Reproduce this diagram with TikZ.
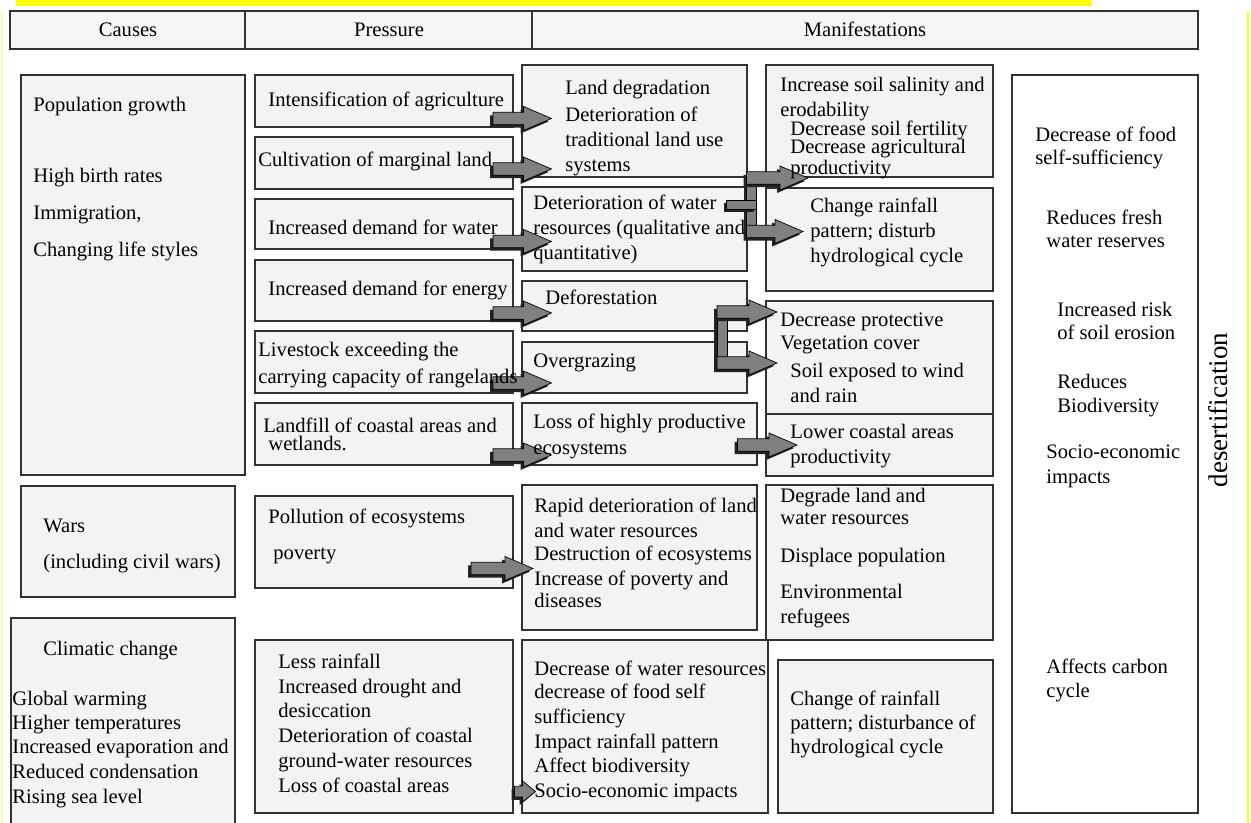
\documentclass[tikz,border=0pt]{standalone}
\usepackage{fontspec}
\setmainfont{Liberation Serif}
\usetikzlibrary{calc,fit}

\definecolor{boxfill}{RGB}{243,243,243}
\definecolor{headfill}{RGB}{246,246,246}
\definecolor{edge}{RGB}{50,50,50}
\definecolor{arrowgray}{RGB}{128,128,128}
\definecolor{shadowgray}{RGB}{35,35,35}
\definecolor{hilite}{RGB}{255,255,0}
\definecolor{palehilite}{RGB}{255,250,190}

\newcommand\bodyfont{\fontsize{10.3pt}{12.3pt}\selectfont}

% block arrow geometry (canvas units)
\def\shaft{3.1pt}
\def\headw{6pt}
\def\headl{14pt}
\def\shoff{1.5pt}

% outline of a horizontal block arrow from a tail point to a tip point
\newcommand\arrowpath[4]{let \p1=(#1), \p2=(#2) in
  ({\x1+#3},{\y2+\shaft+#4}) -- ({\x2-\headl+#3},{\y2+\shaft+#4}) --
  ({\x2-\headl+#3},{\y2+\headw+#4}) -- ({\x2+#3},{\y2+#4}) --
  ({\x2-\headl+#3},{\y2-\headw+#4}) -- ({\x2-\headl+#3},{\y2-\shaft+#4}) --
  ({\x1+#3},{\y2-\shaft+#4}) -- cycle}
\newcommand\blockarrow[2]{%
  \fill[shadowgray] \arrowpath{#1}{#2}{-\shoff}{-\shoff};
  \filldraw[barstyle] \arrowpath{#1}{#2}{0pt}{0pt};}
% a plain bar of the same look, between two corners
\newcommand\blockbar[2]{%
  \fill[shadowgray] ([shift={(-\shoff,-\shoff)}]#1) rectangle ([shift={(-\shoff,-\shoff)}]#2);
  \filldraw[barstyle] (#1) rectangle (#2);}

\newcommand\tx[4]{\node[txt] (#1) at (#2,#3) {#4};}

\tikzset{
  box/.style={draw=edge, line width=1pt, fill=boxfill, inner sep=0pt, outer sep=0pt},
  headbox/.style={box, fill=headfill},
  whitebox/.style={box, fill=white},
  txt/.style={anchor=base west, inner sep=0pt, font=\bodyfont, text=black},
  headtxt/.style={anchor=base, inner sep=0pt, font=\bodyfont, text=black},
  barstyle/.style={fill=arrowgray, draw=black, line width=0.35pt, line join=miter},
}

\begin{document}
\begin{tikzpicture}[x=0.5pt,y=-0.5pt]
\useasboundingbox (0,0) rectangle (1251,823);
\fill[white] (0,0) rectangle (1251,823);

% highlight strip and page edges
\fill[hilite] (16,0) rectangle (1092,6);
\draw[hilite, line width=0.8pt] (1248,12) -- (1248,823);
\draw[palehilite, line width=0.8pt] (2,10) -- (2,823);

% header row
\node[headbox, fit={(10,11) (245,49)}] (HC) {};
\node[headbox, fit={(245,11) (532,49)}] (HP) {};
\node[headbox, fit={(532,11) (1198,49)}] (HM) {};
\node[headtxt] (HCt) at (128,37) {Causes};
\node[headtxt] (HPt) at (389,37) {Pressure};
\node[headtxt] (HMt) at (865,37) {Manifestations};

% causes
\node[box, fit={(20.5,75.5) (245,475)}] (C1) {};
\node[box, fit={(20.5,485.5) (235,597)}] (C2) {};
\node[box, fit={(10.5,617.5) (235,840)}] (C3) {};

% pressure
\node[box, fit={(255,75.5) (512.5,127.5)}] (P1) {};
\node[box, fit={(255,137.5) (512.5,189)}] (P2) {};
\node[box, fit={(255,199) (512.5,249.5)}] (P3) {};
\node[box, fit={(255,260) (512.5,321)}] (P4) {};
\node[box, fit={(255,331.5) (512.5,393)}] (P5) {};
\node[box, fit={(255,403) (512.5,465)}] (P6) {};
\node[box, fit={(255,495.5) (512.5,587.5)}] (P7) {};
\node[box, fit={(255,639.5) (512.5,812.5)}] (P8) {};

% first manifestations
\node[box, fit={(521.5,65.5) (746.5,177.5)}] (M1) {};
\node[box, fit={(521.5,187.5) (746.5,271)}] (M2) {};
\node[box, fit={(521.5,281.5) (746.5,331.5)}] (M3) {};
\node[box, fit={(521.5,341.5) (746.5,392.5)}] (M4) {};
\node[box, fit={(521.5,403) (756.5,465)}] (M5) {};
\node[box, fit={(521.5,485) (756.5,629.5)}] (M6) {};
\node[box, fit={(521.5,639.5) (768,812.5)}] (M7) {};

% further manifestations
\node[box, fit={(766,65.5) (992.5,177.5)}] (N1) {};
\node[box, fit={(766,188) (992.5,291)}] (N2) {};
\node[box, fit={(766,301.5) (992.5,413.5)}] (N3) {};
\node[box, fit={(766,413.5) (992.5,476)}] (N4) {};
\node[box, fit={(766,485) (992.5,639.5)}] (N5) {};
\node[box, fit={(777.5,659.5) (992.5,812.5)}] (N6) {};

% consequences
\node[whitebox, fit={(1012,75.5) (1198,812.5)}] (R) {};

% arrow end points
\coordinate (a1s) at ($(P1.south east)+(-19.5,-9)$);
\coordinate (a1e) at ($(M1.west |- a1s)+(30,0)$);
\coordinate (a2s) at ($(P2.south east)+(-19.5,-20)$);
\coordinate (a2e) at ($(M1.west |- a2s)+(30,0)$);
\coordinate (a3s) at ($(P3.south east)+(-19.5,-8)$);
\coordinate (a3e) at ($(M2.west |- a3s)+(30,0)$);
\coordinate (a4s) at ($(P4.south east)+(-19.5,-8)$);
\coordinate (a4e) at ($(M3.west |- a4s)+(30,0)$);
\coordinate (a5s) at ($(P5.south east)+(-19.5,-10)$);
\coordinate (a5e) at ($(M4.west |- a5s)+(30,0)$);
\coordinate (a6s) at ($(P6.south east)+(-19.5,-10)$);
\coordinate (a6e) at ($(M5.west |- a6s)+(30,0)$);
\coordinate (a7s) at ($(P7.south east)+(-41.5,-19)$);
\coordinate (a7e) at ($(M6.west |- a7s)+(11.5,0)$);
\coordinate (a8s) at ($(P8.south east)+(2,-21)$);
\coordinate (a8e) at ($(M7.west |- a8s)+(14,0)$);
\coordinate (a9s) at ($(M5.south east)+(-19,-20)$);
\coordinate (a9e) at ($(N4.west |- a9s)+(31,0)$);

\blockarrow{a1s}{a1e}
\blockarrow{a2s}{a2e}
\blockarrow{a3s}{a3e}
\blockarrow{a4s}{a4e}
\blockarrow{a5s}{a5e}
\blockarrow{a6s}{a6e}
\blockarrow{a7s}{a7e}
{\def\headl{6.5pt}\def\headw{5.3pt}\def\shaft{2.7pt}\blockarrow{a8s}{a8e}}
\blockarrow{a9s}{a9e}

% joint branch from land and water deterioration
\coordinate (j1a) at ($(M1.south east)+(0,-2.5)$);
\coordinate (j1b) at ($(M2.north east)+(10,48)$);
\coordinate (j1c) at ($(M2.north east)+(-20,12.5)$);
\coordinate (j1d) at ($(M2.north east)+(10,21.5)$);
\coordinate (b1s) at ($(M1.south east)+(0,0.5)$);
\coordinate (b1e) at ($(N1.south west)+(42,0.5)$);
\coordinate (b2s) at ($(M2.north east)+(0,44)$);
\coordinate (b2e) at ($(N2.west |- b2s)+(37,0)$);
\blockbar{j1a}{j1b}
\blockbar{j1c}{j1d}
\blockarrow{b1s}{b1e}
\blockarrow{b2s}{b2e}

% joint branch from deforestation and overgrazing
\coordinate (j2a) at ($(M3.north east)+(-29.5,25)$);
\coordinate (j2b) at ($(M4.north east)+(-19.5,27)$);
\coordinate (b3s) at ($(M3.north east)+(-29.5,30.5)$);
\coordinate (b3e) at ($(N3.west |- b3s)+(11,0)$);
\coordinate (b4s) at ($(M4.north east)+(-29.5,21.5)$);
\coordinate (b4e) at ($(N3.west |- b4s)+(11,0)$);
\blockbar{j2a}{j2b}
\blockarrow{b3s}{b3e}
\blockarrow{b4s}{b4e}

% texts: causes
\tx{C1a}{33}{112}{Population growth}
\tx{C1b}{33}{183}{High birth rates}
\tx{C1c}{33}{220}{Immigration,}
\tx{C1d}{33}{257}{Changing life styles}
\tx{C2a}{43}{532}{Wars}
\tx{C2b}{43}{568}{(including civil wars)}
\tx{C3a}{43}{655}{Climatic change}
\tx{C3b}{12}{705}{Global warming}
\tx{C3c}{12}{729}{Higher temperatures}
\tx{C3d}{12}{753}{Increased evaporation and}
\tx{C3e}{12}{778}{Reduced condensation}
\tx{C3f}{12}{803}{Rising sea level}

% texts: pressure
\tx{P1a}{268}{107}{Intensification of agriculture}
\tx{P2a}{258}{167}{Cultivation of marginal land}
\tx{P3a}{268}{235}{Increased demand for water}
\tx{P4a}{268}{296}{Increased demand for energy}
\tx{P5a}{258}{357}{Livestock exceeding the}
\tx{P5b}{258}{383}{carrying capacity of rangelands}
\tx{P6a}{263}{432}{Landfill of coastal areas and}
\tx{P6b}{268}{450}{wetlands.}
\tx{P7a}{268}{523}{Pollution of ecosystems}
\tx{P7b}{273}{559}{poverty}
\tx{P8a}{278}{668}{Less rainfall}
\tx{P8b}{278}{693}{Increased drought and}
\tx{P8c}{278}{717}{desiccation}
\tx{P8d}{278}{742}{Deterioration of coastal}
\tx{P8e}{278}{767}{ground-water resources}
\tx{P8f}{278}{792}{Loss of coastal areas}

% texts: first manifestations
\tx{M1a}{565}{95}{Land degradation}
\tx{M1b}{565}{122}{Deterioration of}
\tx{M1c}{565}{147}{traditional land use}
\tx{M1d}{565}{172}{systems}
\tx{M2a}{533}{210}{Deterioration of water}
\tx{M2b}{533}{235}{resources (qualitative and}
\tx{M2c}{533}{260}{quantitative)}
\tx{M3a}{545}{305}{Deforestation}
\tx{M4a}{533}{367}{Overgrazing}
\tx{M5a}{533}{428}{Loss of highly productive}
\tx{M5b}{533}{454}{ecosystems}
\tx{M6a}{534}{512}{Rapid deterioration of land}
\tx{M6b}{534}{537}{and water resources}
\tx{M6c}{534}{560}{Destruction of ecosystems}
\tx{M6d}{534}{585}{Increase of poverty and}
\tx{M6e}{534}{607}{diseases}
\tx{M7a}{534}{675}{Decrease of water resources}
\tx{M7b}{534}{698}{decrease of food self}
\tx{M7c}{534}{723}{sufficiency}
\tx{M7d}{534}{748}{Impact rainfall pattern}
\tx{M7e}{534}{772}{Affect biodiversity}
\tx{M7f}{534}{797}{Socio-economic impacts}

% texts: further manifestations
\tx{N1a}{780}{92}{Increase soil salinity and}
\tx{N1b}{780}{117}{erodability}
\tx{N1c}{790}{136}{Decrease soil fertility}
\tx{N1d}{790}{154}{Decrease agricultural}
\tx{N1e}{790}{175}{productivity}
\tx{N2a}{810}{213}{Change rainfall}
\tx{N2b}{810}{238}{pattern; disturb}
\tx{N2c}{810}{263}{hydrological cycle}
\tx{N3a}{780}{327}{Decrease protective}
\tx{N3b}{780}{350}{Vegetation cover}
\tx{N3c}{790}{377}{Soil exposed to wind}
\tx{N3d}{790}{402}{and rain}
\tx{N4a}{790}{438}{Lower coastal areas}
\tx{N4b}{790}{463}{productivity}
\tx{N5a}{780}{502}{Degrade land and}
\tx{N5b}{780}{524}{water resources}
\tx{N5c}{780}{562}{Displace population}
\tx{N5d}{780}{598}{Environmental}
\tx{N5e}{780}{623}{refugees}
\tx{N6a}{790}{705}{Change of rainfall}
\tx{N6b}{790}{729}{pattern; disturbance of}
\tx{N6c}{790}{753}{hydrological cycle}

% texts: consequences
\tx{R1a}{1035}{142}{Decrease of food}
\tx{R1b}{1035}{165}{self-sufficiency}
\tx{R2a}{1046}{225}{Reduces fresh}
\tx{R2b}{1046}{248}{water reserves}
\tx{R3a}{1057}{317}{Increased risk}
\tx{R3b}{1057}{340}{of soil erosion}
\tx{R4a}{1057}{388}{Reduces}
\tx{R4b}{1057}{412}{Biodiversity}
\tx{R5a}{1046}{458}{Socio-economic}
\tx{R5b}{1046}{483}{impacts}
\tx{R6a}{1046}{673}{Affects carbon}
\tx{R6b}{1046}{697}{cycle}

\node[rotate=90, inner sep=0pt, font=\fontsize{13.5pt}{16pt}\selectfont] (D) at (1218,410) {desertification};
\end{tikzpicture}
\end{document}
